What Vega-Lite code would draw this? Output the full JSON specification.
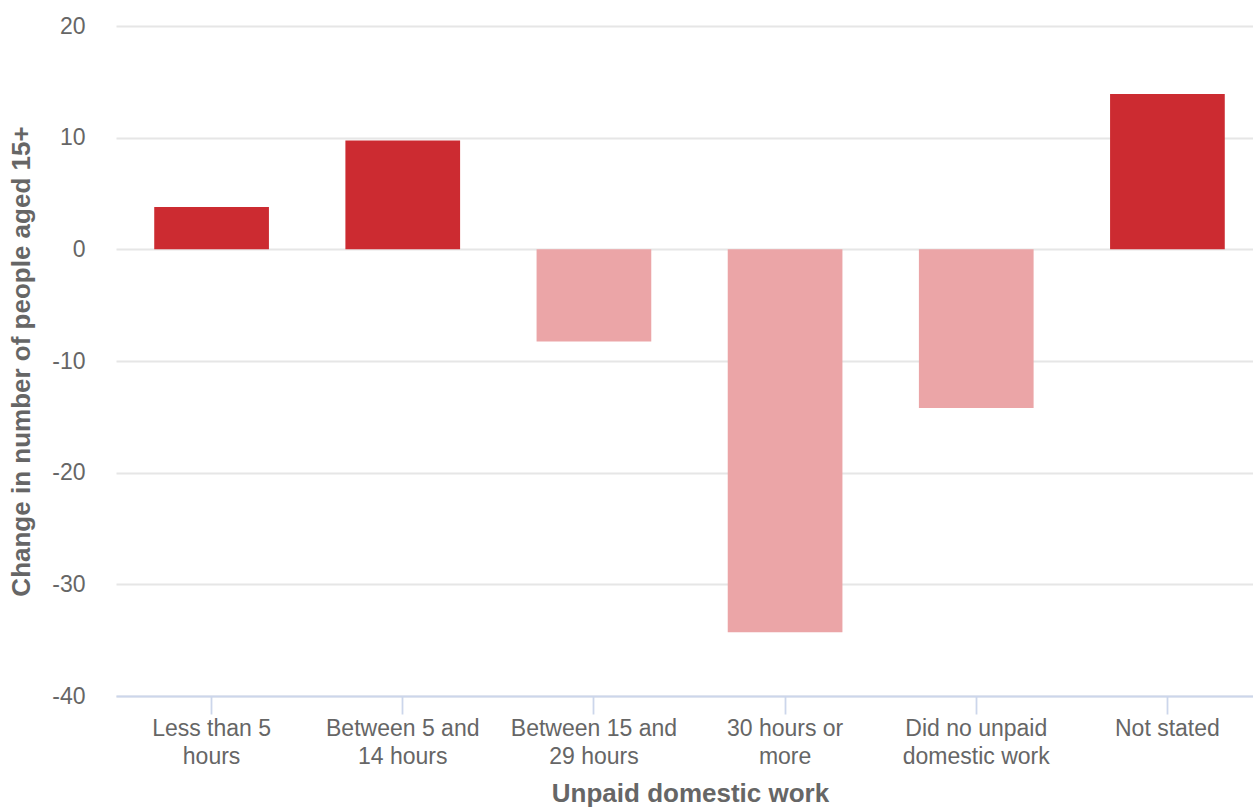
{
  "$schema": "https://vega.github.io/schema/vega-lite/v6.json",
  "width": 1137,
  "height": 670,
  "autosize": {"type": "none"},
  "padding": {"left": 116, "top": 26, "right": 0, "bottom": 111},
  "background": "white",
  "config": {
    "view": {"stroke": null},
    "font": "Liberation Sans"
  },
  "data": {
    "values": [
      {"category": "Less than 5 hours", "value": 3.8},
      {"category": "Between 5 and 14 hours", "value": 9.75},
      {"category": "Between 15 and 29 hours", "value": -8.25},
      {"category": "30 hours or more", "value": -34.3},
      {"category": "Did no unpaid domestic work", "value": -14.2},
      {"category": "Not stated", "value": 13.9}
    ]
  },
  "mark": {"type": "bar"},
  "encoding": {
    "x": {
      "field": "category",
      "type": "nominal",
      "sort": null,
      "scale": {"range": [0, 1147], "paddingInner": 0.4, "paddingOuter": 0.2},
      "axis": {
        "title": "Unpaid domestic work",
        "titleFont": "Liberation Sans",
        "titleFontSize": 26,
        "titleFontWeight": "bold",
        "titleColor": "#666666",
        "titlePadding": 12,
        "titleAnchor": "middle",
        "titleX": 574,
        "labelAngle": 0,
        "labelFont": "Liberation Sans",
        "labelFontSize": 23,
        "labelColor": "#666666",
        "labelLineHeight": 28,
        "labelPadding": 3,
        "labelExpr": "({'Less than 5 hours': ['Less than 5', 'hours'], 'Between 5 and 14 hours': ['Between 5 and', '14 hours'], 'Between 15 and 29 hours': ['Between 15 and', '29 hours'], '30 hours or more': ['30 hours or', 'more'], 'Did no unpaid domestic work': ['Did no unpaid', 'domestic work'], 'Not stated': ['Not stated']})[datum.label]",
        "domainColor": "#ccd6eb",
        "domainWidth": 1.8,
        "tickColor": "#ccd6eb",
        "tickWidth": 1.8,
        "tickSize": 18,
        "grid": false
      }
    },
    "y": {
      "field": "value",
      "type": "quantitative",
      "scale": {"domain": [-40, 20], "nice": false, "zero": false},
      "axis": {
        "title": "Change in number of people aged 15+",
        "titleFont": "Liberation Sans",
        "titleFontSize": 26,
        "titleFontWeight": "bold",
        "titleColor": "#666666",
        "titlePadding": 17,
        "values": [-40, -30, -20, -10, 0, 10, 20],
        "labelExpr": "'' + datum.value",
        "labelFont": "Liberation Sans",
        "labelFontSize": 23,
        "labelColor": "#666666",
        "labelPadding": 31,
        "ticks": false,
        "domain": false,
        "grid": true,
        "gridColor": "#e6e6e6",
        "gridWidth": 1.8
      }
    },
    "color": {
      "condition": {"test": "datum.value >= 0", "value": "#cc2b31"},
      "value": "#eba5a7"
    }
  }
}
